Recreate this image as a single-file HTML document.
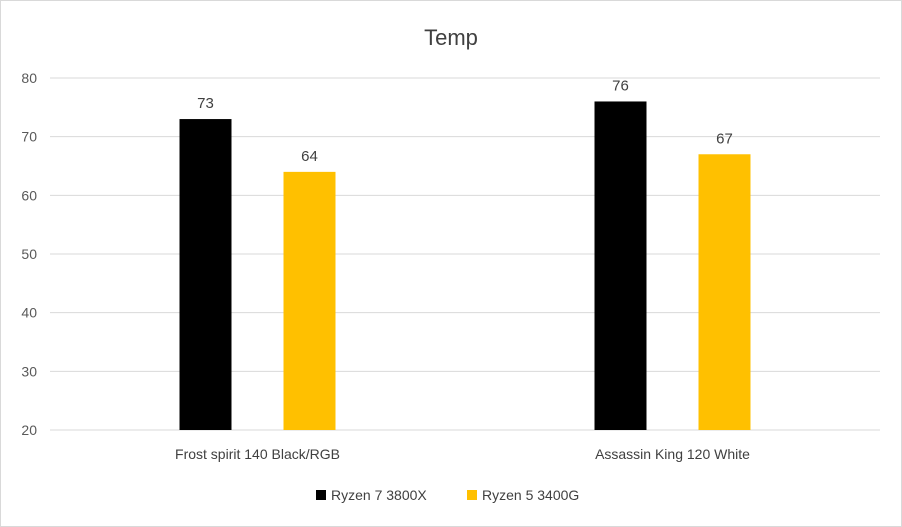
<!DOCTYPE html>
<html><head><meta charset="utf-8"><style>
body{margin:0;background:#fff}
svg{display:block;font-family:"Liberation Sans",Arial,sans-serif}
</style></head><body>
<svg id="chart" width="902" height="527">
<rect x="0.5" y="0.5" width="901" height="526" fill="#fff" stroke="#d9d9d9"/>
<text x="451" y="45" text-anchor="middle" font-size="22" fill="#404040">Temp</text>
<g id="grid"></g><g id="bars"></g>
<g>
<rect x="316" y="490" width="10" height="10" fill="#000"/>
<text x="331" y="500" font-size="14" fill="#404040">Ryzen 7 3800X</text>
<rect x="467" y="490" width="10" height="10" fill="#ffc000"/>
<text x="482" y="500" font-size="14" fill="#404040">Ryzen 5 3400G</text>
</g>
</svg>
<script>
const categories=["Frost spirit 140 Black/RGB","Assassin King 120 White"];
const series3800x=[73,76];
const series3400g=[64,67];
const yTicks=[20,30,40,50,60,70,80];
const NS="http://www.w3.org/2000/svg";
const x0=50,x1=880,yTop=78,yBot=430,yMin=20,yMax=80;
const y=v=>yBot-(v-yMin)/(yMax-yMin)*(yBot-yTop);
const bw=(x1-x0)/categories.length;
const cx=i=>x0+bw*(i+0.5);
function mk(tag,attrs,parent,txt){const e=document.createElementNS(NS,tag);for(const k in attrs)e.setAttribute(k,attrs[k]);if(txt!==undefined)e.textContent=txt;parent.appendChild(e);return e;}
const grid=document.getElementById('grid'),bars=document.getElementById('bars');
yTicks.forEach(t=>{
 const l=mk('line',{x1:x0,x2:x1,y1:y(t),y2:y(t),stroke:'#d9d9d9','stroke-width':1},grid);
 
 
 const tx=mk('text',{x:37,y:y(t)+5,'text-anchor':'end','font-size':14,fill:'#595959'},grid,t);
 
 
});
const series=[{d:series3800x,c:'#000',n:'3800x',off:-78},{d:series3400g,c:'#ffc000',n:'3400g',off:26}];
categories.forEach((c,i)=>{
 series.forEach(s=>{
  const v=s.d[i];
  const r=mk('rect',{x:cx(i)+s.off,y:y(v),width:52,height:yBot-y(v),fill:s.c},bars);
  
  
  const t=mk('text',{x:cx(i)+s.off+26,y:y(v)-11,'text-anchor':'middle','font-size':15,fill:'#404040'},bars,v);
  
  
 });
 const cl=mk('text',{x:cx(i),y:459,'text-anchor':'middle','font-size':14,fill:'#404040'},bars,c);
 
 
});
</script>
</body></html>
